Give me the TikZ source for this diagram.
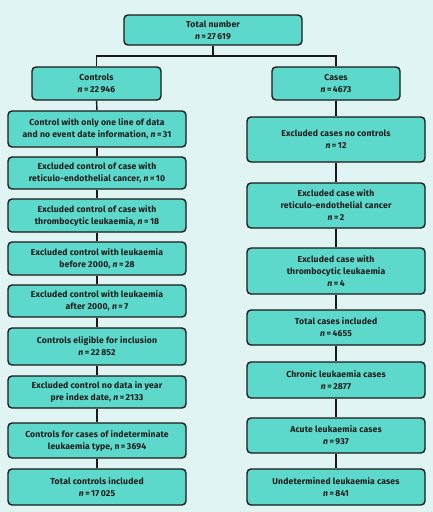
\documentclass[tikz,border=0pt]{standalone}
\usepackage{fontspec}
\setmainfont{Fira Sans}[LetterSpace=2]
\definecolor{bgc}{HTML}{E0F5F3}
\definecolor{boxc}{HTML}{5DD9CC}
\definecolor{linec}{HTML}{1A1A1A}
\begin{document}
\begin{tikzpicture}[x=1pt,y=-1pt,
  box/.style={draw=linec, line width=1.4pt, fill=boxc, rounded corners=4pt, align=center,
    font=\fontsize{8.6}{12}\selectfont\bfseries, text=linec, inner sep=1pt},
  lbox/.style={box, minimum width=178pt},
  conn/.style={draw=linec, line width=1.4pt}]
\fill[bgc] (0,0) rectangle (433,512);
\useasboundingbox (0,0) rectangle (433,512);
\newcommand{\nn}{\textit{n}}
\node[box, minimum width=178pt, minimum height=30pt] (total) at (213,30) {Total number\\\nn\,=\,27\,619};
\node[box, minimum width=129pt, minimum height=33pt] (controls) at (96.5,83.5) {Controls\\\nn\,=\,22\,946};
\node[box, minimum width=128pt, minimum height=33pt] (cases) at (336,83.5) {Cases\\\nn\,=\,4673};
% left column
\node[lbox, minimum height=36pt] (l1) at (97,129) {Control with only one line of data\\and no event date information, \nn\,=\,31};
\node[lbox, minimum height=32pt] (l2) at (97,173) {Excluded control of case with\\reticulo-endothelial cancer, \nn\,=\,10};
\node[lbox, minimum height=33pt] (l3) at (97,215.5) {Excluded control of case with\\thrombocytic leukaemia, \nn\,=\,18};
\node[lbox, minimum height=33pt] (l4) at (97,258.5) {Excluded control with leukaemia\\before 2000, \nn\,=\,28};
\node[lbox, minimum height=32pt] (l5) at (97,301) {Excluded control with leukaemia\\after 2000, \nn\,=\,7};
\node[lbox, minimum height=37pt] (l6) at (97,346.5) {Controls eligible for inclusion\\\nn\,=\,22\,852};
\node[lbox, minimum height=32pt] (l7) at (97,392) {Excluded control no data in year\\pre index date, \nn\,=\,2133};
\node[lbox, minimum height=35pt] (l8) at (97,440.5) {Controls for cases of indeterminate\\leukaemia type, n\,=\,3694};
\node[lbox, minimum height=36pt] (l9) at (97,487) {Total controls included\\\nn\,=\,17\,025};
% right column
\node[lbox, minimum height=45pt] (r1) at (336,139.5) {Excluded cases no controls\\\nn\,=\,12};
\node[lbox, minimum height=45pt] (r2) at (336,205.5) {Excluded case with\\reticulo-endothelial cancer\\\nn\,=\,2};
\node[lbox, minimum height=46pt] (r3) at (336,271) {Excluded case with\\thrombocytic leukaemia\\\nn\,=\,4};
\node[lbox, minimum height=35pt] (r4) at (336,327.5) {Total cases included\\\nn\,=\,4655};
\node[lbox, minimum height=36pt] (r5) at (336,380) {Chronic leukaemia cases\\\nn\,=\,2877};
\node[lbox, minimum height=35pt] (r6) at (336,435.5) {Acute leukaemia cases\\\nn\,=\,937};
\node[lbox, minimum height=36pt] (r7) at (336,487) {Undetermined leukaemia cases\\\nn\,=\,841};
% connectors
\coordinate (j) at (213,56);
\draw[conn] (total.south) -- (j);
\draw[conn] (controls.north) |- (j) -| (cases.north);
\foreach \a/\b in {controls/l1,l1/l2,l2/l3,l3/l4,l4/l5,l5/l6,l6/l7,l7/l8,l8/l9,
  cases/r1,r1/r2,r2/r3,r3/r4,r4/r5,r5/r6,r6/r7}
  \draw[conn] (\a.south) -- (\b.north);
\end{tikzpicture}
\end{document}
